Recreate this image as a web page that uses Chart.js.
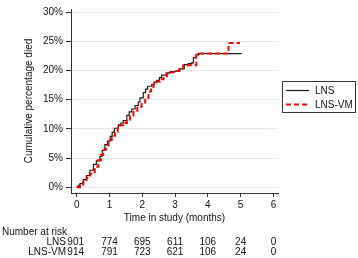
<!DOCTYPE html>
<html>
<head>
<meta charset="utf-8">
<script src="https://cdn.jsdelivr.net/npm/chart.js@4/dist/chart.umd.min.js"></script>
<style>
html,body{margin:0;padding:0;background:#fff;}
canvas{display:block;}
</style>
</head>
<body>
<canvas id="c" width="358" height="258"></canvas>
<script>
// ---- data ----
const seriesNames = ["LNS", "LNS-VM"];
const lnsTimes = [0,0.05,0.1,0.2,0.3,0.4,0.51,0.6,0.71,0.78,0.86,0.94,1.02,1.08,1.15,1.27,1.35,1.42,1.53,1.6,1.68,1.78,1.88,1.93,2.03,2.1,2.16,2.29,2.36,2.44,2.52,2.59,2.73,2.85,3.0,3.15,3.28,3.4,3.51,3.56,3.64,3.71,5.03];
const lnsPct   = [0,0.3,0.6,1.3,2.0,2.9,3.9,4.5,5.3,6.3,7.3,7.9,8.7,9.4,10.1,10.7,11.0,11.4,12.3,12.9,13.4,14.0,14.6,15.3,16.2,16.8,17.3,17.6,18.0,18.3,18.8,19.2,19.6,19.8,19.9,20.3,21.0,21.2,21.3,22.2,22.7,22.9,22.9];
const vmTimes  = [0,0.1,0.2,0.3,0.41,0.55,0.66,0.74,0.81,0.9,0.97,1.07,1.17,1.25,1.32,1.42,1.53,1.63,1.73,1.85,1.98,2.09,2.19,2.27,2.34,2.44,2.54,2.65,2.75,2.88,3.0,3.12,3.25,3.65,4.63,4.98];
const vmPct    = [0,0.4,0.9,1.6,2.3,3.5,4.6,5.5,6.4,7.2,8.1,8.8,9.5,10.1,10.6,11.0,11.4,12.3,13.1,13.8,14.5,15.3,16.4,17.0,17.6,18.1,18.5,19.0,19.4,19.7,19.9,20.4,20.9,22.9,24.7,24.7];
const xTicks = [0,1,2,3,4,5,6];
const yTicks = [0,5,10,15,20,25,30];
const riskTimes = [0,1,2,3,4,5,6];
const riskLNS = [901,774,695,611,106,24,0];
const riskVM  = [914,791,723,621,106,24,0];

const FONT = "'Liberation Sans', Arial, sans-serif";
const toPts = (ts, ps) => ts.map((t, i) => ({x: t, y: ps[i]}));

const legendPlugin = {
  id: 'boxLegend',
  afterDraw(chart) {
    const ctx = chart.ctx;
    ctx.save();
    ctx.strokeStyle = '#333';
    ctx.lineWidth = 1;
    ctx.strokeRect(282.5, 81.5, 73, 31);
    const rows = [90, 104];
    const ds = [chart.data.datasets[0], chart.data.datasets[1]];
    ds.forEach((d, i) => {
      ctx.beginPath();
      ctx.strokeStyle = d.borderColor;
      ctx.lineWidth = d.borderWidth;
      ctx.setLineDash(d.borderDash || []);
      ctx.moveTo(286, rows[i] + 0.5);
      ctx.lineTo(309, rows[i] + 0.5);
      ctx.stroke();
      ctx.setLineDash([]);
      ctx.fillStyle = '#111';
      ctx.font = '10px ' + FONT;
      ctx.textAlign = 'left';
      ctx.textBaseline = 'middle';
      ctx.fillText(d.label, 315, rows[i] + 1);
    });
    ctx.restore();
  }
};

const riskPlugin = {
  id: 'riskTable',
  afterDraw(chart) {
    const ctx = chart.ctx;
    const xs = chart.scales.x;
    ctx.save();
    ctx.fillStyle = '#111';
    ctx.font = '10px ' + FONT;
    ctx.textBaseline = 'middle';
    ctx.textAlign = 'left';
    ctx.fillText('Number at risk', 2, 232);
    const rows = [[seriesNames[0], riskLNS, 242.5], [seriesNames[1], riskVM, 252.5]];
    rows.forEach(([name, vals, y]) => {
      ctx.textAlign = 'right';
      ctx.fillText(name, 66, y);
      ctx.textAlign = 'center';
      vals.forEach((v, i) => {
        let px = xs.getPixelForValue(riskTimes[i]);
        if (i === 0) px -= 1;
        ctx.fillText(String(v), px, y);
      });
    });
    ctx.restore();
  }
};

new Chart(document.getElementById('c'), {
  type: 'scatter',
  data: {
    datasets: [
      {label: seriesNames[0], data: toPts(lnsTimes, lnsPct), showLine: true, stepped: true,
       borderColor: '#1a1a1a', borderWidth: 1.2, pointRadius: 0, order: 1},
      {label: seriesNames[1], data: toPts(vmTimes, vmPct), showLine: true, stepped: true,
       borderColor: '#ff0000', borderWidth: 2, borderDash: [5, 3], pointRadius: 0, order: 0}
    ]
  },
  options: {
    responsive: false,
    animation: false,
    devicePixelRatio: 1,
    layout: {padding: {top: 4, right: 80, bottom: 0, left: 0}},
    plugins: {legend: {display: false}, tooltip: {enabled: false}},
    scales: {
      x: {
        type: 'linear', min: -0.174, max: 6.14,
        afterBuildTicks: s => { s.ticks = xTicks.map(v => ({value: v})); },
        afterFit: s => { s.height = 65; },
        grid: {drawOnChartArea: false, drawTicks: true, tickLength: 4, tickColor: '#333'},
        border: {color: '#333', width: 1},
        ticks: {font: {size: 10, family: FONT}, color: '#111', padding: 2, maxRotation: 0,
                callback: v => String(v)},
        title: {display: true, text: 'Time in study (months)', font: {size: 10, family: FONT},
                color: '#111', padding: {top: 0, bottom: 34}}
      },
      y: {
        type: 'linear', min: -1, max: 30.55,
        afterBuildTicks: s => { s.ticks = yTicks.map(v => ({value: v})); },
        afterFit: s => { s.width = 71; },
        grid: {color: '#e2ebeb', drawTicks: true, tickLength: 5, tickColor: '#333'},
        border: {color: '#333', width: 1},
        ticks: {font: {size: 10, family: FONT}, color: '#111', padding: 3,
                callback: v => v + '%'},
        title: {display: true, text: 'Cumulative percentage died', font: {size: 10, family: FONT},
                color: '#111', padding: {top: 23, bottom: 0}}
      }
    }
  },
  plugins: [legendPlugin, riskPlugin]
});
</script>
</body>
</html>
